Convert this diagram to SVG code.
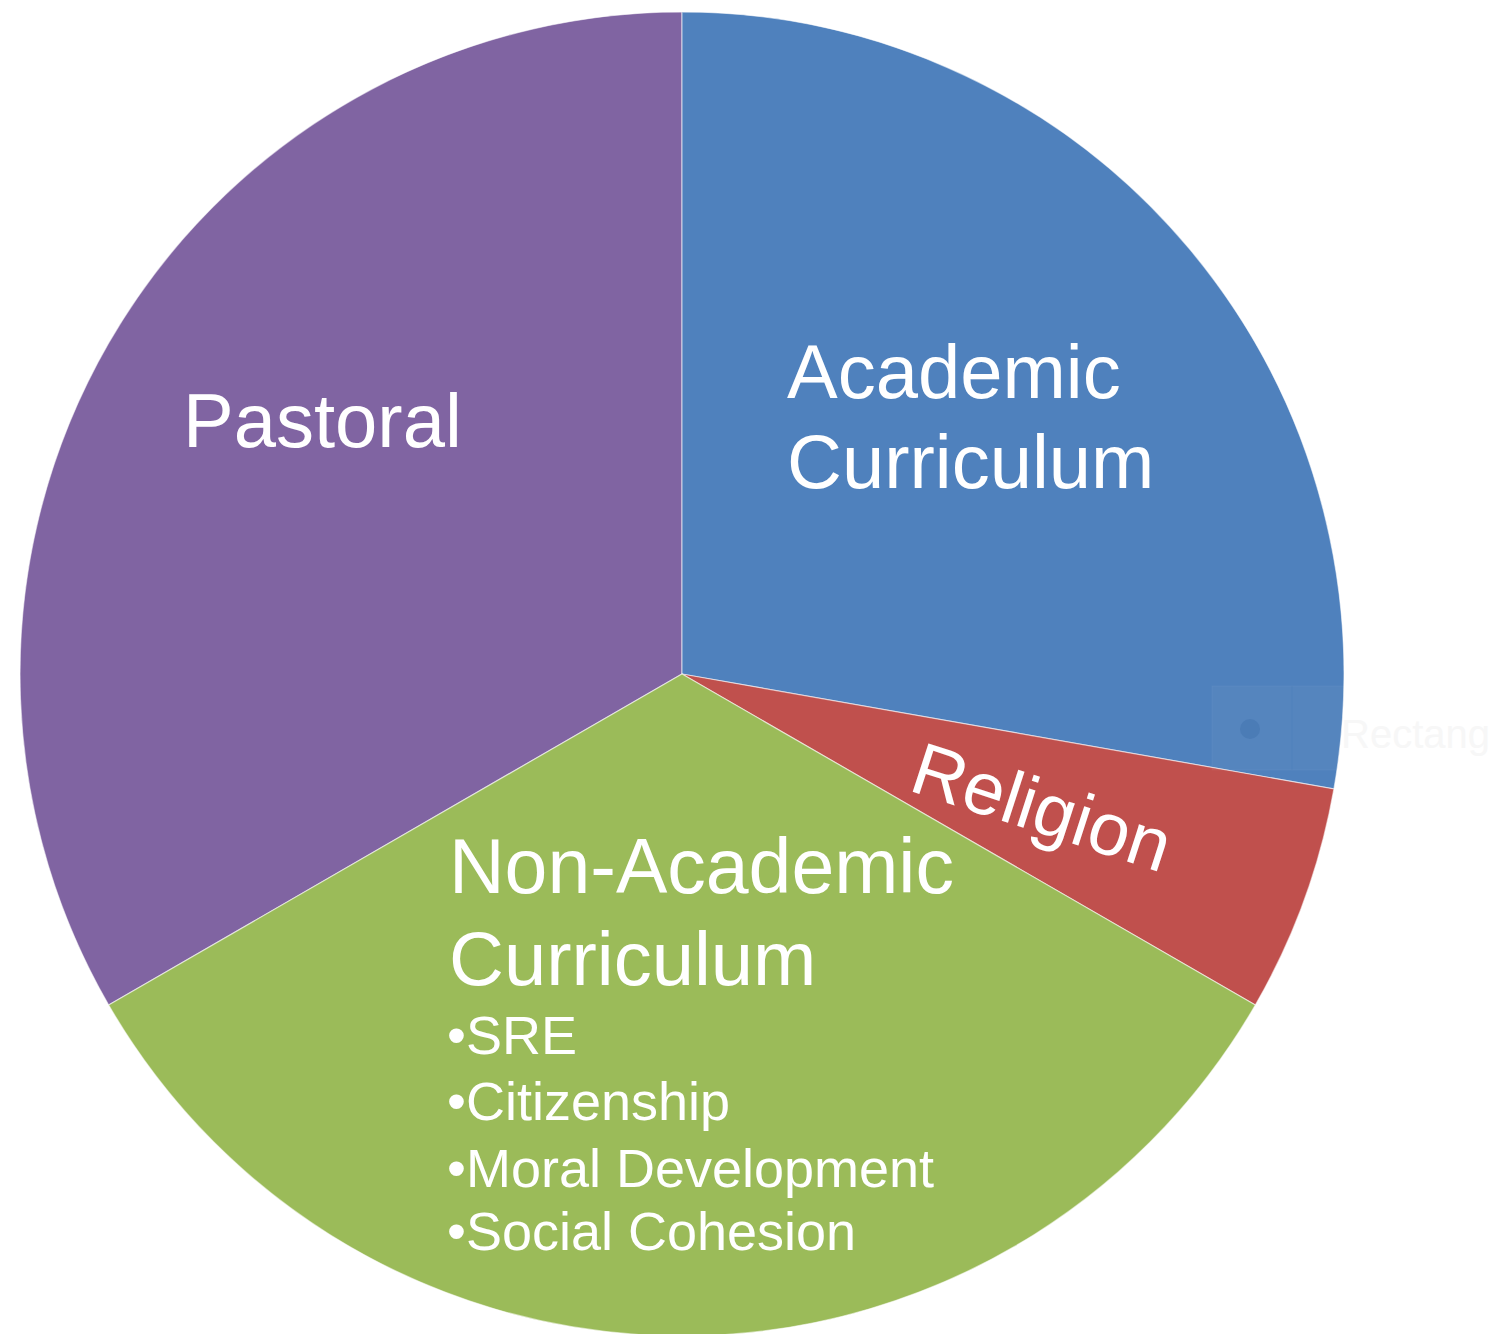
<svg xmlns="http://www.w3.org/2000/svg" width="1499" height="1334" viewBox="0 0 1499 1334">
  <style>
    .slice { stroke: #ffffff; stroke-width: 1.2; stroke-opacity: 0.55; }
    .label { font-family: "Liberation Sans", Arial, sans-serif; fill: #ffffff; }
    .big { font-size: 76px; }
    .small { font-size: 54px; }
  </style>
  <rect width="1499" height="1334" fill="#ffffff"/>

  <!-- pie centre (682,674), radius 662 -->
  <g id="pastoral">
    <path class="slice" fill="#8064A2" d="M682,674 L108.7,1005 A662,662 0 0 1 682,12 Z"/>
    <text class="label big" x="183" y="447">Pastoral</text>
  </g>

  <g id="academic-curriculum">
    <path class="slice" fill="#4F81BD" d="M682,674 L682,12 A662,662 0 0 1 1333.9,788.9 Z"/>
    <text class="label big" x="787" y="398">Academic</text>
    <text class="label big" x="787" y="488">Curriculum</text>
  </g>

  <g id="religion">
    <path class="slice" fill="#C0504D" d="M682,674 L1333.9,788.9 A662,662 0 0 1 1255.3,1005 Z"/>
    <text class="label" font-size="74" x="907" y="790" transform="rotate(18 907 790)">Religion</text>
  </g>

  <g id="non-academic-curriculum">
    <path class="slice" fill="#9BBB59" d="M682,674 L1255.3,1005 A662,662 0 0 1 108.7,1005 Z"/>
    <text class="label" font-size="77" x="449" y="893">Non-Academic</text>
    <text class="label big" x="449" y="985">Curriculum</text>
    <text class="label small" x="447" y="1054">•SRE</text>
    <text class="label small" x="447" y="1120">•Citizenship</text>
    <text class="label small" x="447" y="1187">•Moral Development</text>
    <text class="label small" x="447" y="1250">•Social Cohesion</text>
  </g>

  <!-- faint selection tag at the right edge -->
  <g id="selection-tag" opacity="0.6">
    <rect x="1212" y="686" width="300" height="84" fill="#ffffff" fill-opacity="0.06" stroke="#ffffff" stroke-opacity="0.08"/>
    <line x1="1292" y1="686" x2="1292" y2="770" stroke="#3f6fa8" stroke-opacity="0.25"/>
    <circle cx="1250" cy="729" r="10" fill="#3f6fa8" fill-opacity="0.6"/>
    <text x="1341" y="748" font-family="'Liberation Sans', Arial, sans-serif" font-size="40" fill="#f2f2f2">Rectang</text>
  </g>
</svg>
